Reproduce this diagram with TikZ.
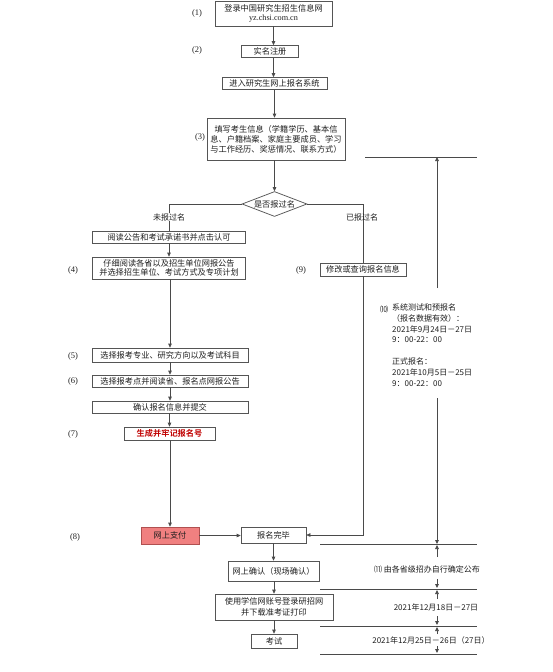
\documentclass[tikz,border=0pt]{standalone}
\usepackage{fontspec}
\setmainfont{Liberation Serif}
\newfontfamily\cjk{Noto Sans CJK SC}[BoldFont={Noto Sans CJK SC Bold}]
\usetikzlibrary{arrows.meta,shapes.geometric}
\definecolor{linec}{HTML}{4A4A4A}
\definecolor{boxc}{HTML}{555555}
\definecolor{txt}{HTML}{1E1E1E}
\definecolor{payfill}{HTML}{F08080}
\definecolor{payline}{HTML}{B05050}
\definecolor{redtxt}{HTML}{C00000}
\begin{document}
\begin{tikzpicture}[x=1pt,y=-1pt,
  box/.style={draw=boxc, line width=0.75pt, inner sep=0pt, text=txt, align=center,
    font=\cjk\fontsize{8.2}{10}\selectfont},
  num/.style={inner sep=0pt, text=txt, font=\fontsize{8.5}{10}\selectfont},
  tl/.style={inner sep=0pt, text=txt, font=\cjk\fontsize{8}{10.8}\selectfont},
  ln/.style={draw=linec, line width=0.75pt},
  arr/.style={ln, -{Triangle[length=4pt,width=3.6pt]}},
]
\useasboundingbox (0,0) rectangle (553,672);

% main column
\node[box, minimum width=117pt, minimum height=25pt] (b1) at (273.5,13.5)
  {登录中国研究生招生信息网\\[-1pt]{\rmfamily yz.chsi.com.cn}};
\node[box, minimum width=57pt, minimum height=12pt] (b2) at (270,51.5) {实名注册};
\node[box, minimum width=105pt, minimum height=12pt] (b3) at (274.5,83.5) {进入研究生网上报名系统};
\node[box, minimum width=138pt, minimum height=42pt] (b4) at (276,139)
  {填写考生信息（学籍学历、基本信\\息、户籍档案、家庭主要成员、学习\\与工作经历、奖惩情况、联系方式）};
\node[box, diamond, aspect=2.6, minimum width=65pt, minimum height=25pt] (dia) at (274.5,204) {是否报过名};

% left column
\node[box, minimum width=153pt, minimum height=12pt] (r1) at (169,237) {阅读公告和考试承诺书并点击认可};
\node[box, minimum width=153pt, minimum height=22pt, font=\cjk\fontsize{8.2}{9.6}\selectfont] (r2) at (169,268)
  {仔细阅读各省以及招生单位网报公告\\并选择招生单位、考试方式及专项计划};
\node[box, minimum width=156pt, minimum height=14pt] (r5) at (170,355) {选择报考专业、研究方向以及考试科目};
\node[box, minimum width=156pt, minimum height=12pt] (r6) at (170,381) {选择报考点并阅读省、报名点网报公告};
\node[box, minimum width=156pt, minimum height=12pt] (r6b) at (170,407) {确认报名信息并提交};
\node[box, minimum width=91pt, minimum height=13pt, text=redtxt, font=\cjk\bfseries\fontsize{8.2}{10}\selectfont] (r7) at (169.5,433.5) {生成并牢记报名号};
\node[box, draw=payline, fill=payfill, minimum width=58pt, minimum height=17pt] (pay) at (170,535.5) {网上支付};

% right branch
\node[box, minimum width=86pt, minimum height=13pt] (m9) at (363,269.5) {修改或查询报名信息};

% bottom column
\node[box, minimum width=65pt, minimum height=16pt] (done) at (273.5,535) {报名完毕};
\node[box, minimum width=91pt, minimum height=20pt] (conf) at (273.5,571) {网上确认（现场确认）};
\node[box, minimum width=118pt, minimum height=26pt, font=\cjk\fontsize{8.2}{11}\selectfont] (dl) at (274,607)
  {使用学信网账号登录研招网\\并下载准考证打印};
\node[box, minimum width=46pt, minimum height=14pt] (exam) at (274,641) {考试};

% step numbers
\node[num] (n1) at (197,13) {(1)};
\node[num] (n2) at (197,50) {(2)};
\node[num] (n3) at (200,137) {(3)};
\node[num] (n4) at (73,270) {(4)};
\node[num] (n5) at (73,356) {(5)};
\node[num] (n6) at (73,381) {(6)};
\node[num] (n7) at (73,434) {(7)};
\node[num] (n8) at (75,537) {(8)};
\node[num] (n9) at (301,270) {(9)};

% connectors main
\draw[arr] (b1.south) -- (b1.south |- b2.north);
\draw[arr] (b1.south |- b2.south) -- (b1.south |- b3.north);
\draw[arr] (b3.south -| dia.north) -- (dia.north |- b4.north);
\draw[arr] (b4.south -| dia.north) -- (dia.north);

% branches
\draw[ln] (dia.west) -| (r1.north);
\node[tl, fill=white, inner sep=0.5pt] (lno) at (169,217) {未报过名};
\draw[ln] (dia.east) -| (m9.north);
\node[tl] (lyes) at (362,217) {已报过名};
\draw[arr] (m9.south) |- (done.east);

\draw[arr] (r1) -- (r2);
\draw[arr] (r2.south -| r5.north) -- (r5.north);
\draw[arr] (r5) -- (r6);
\draw[arr] (r6) -- (r6b);
\draw[arr] (r6b.south -| r7.north) -- (r7.north);
\draw[arr] (r7.south -| pay.north) -- (pay.north);
\draw[arr] (pay.east) -- (pay.east -| done.west);
\draw[arr] (done) -- (conf);
\draw[arr] (conf.south -| dl.north) -- (dl.north);
\draw[arr] (dl) -- (exam);

% timeline top
\coordinate (ta) at (365,157);
\coordinate (tb) at (477,157);
\coordinate (tup) at (437,157);
\coordinate (tbot) at (437,288);
\draw[ln] (ta) -- (tb);
\draw[arr] (tbot) -- (tup);
\node[tl] (n10) at (384,309) {⑽};
\node[tl, anchor=north west, align=left] (t10) at (392,303.5)
  {系统测试和预报名\\（报名数据有效）：\\2021年9月24日－27日\\9：00-22：00\\[10.8pt]正式报名：\\2021年10月5日－25日\\9：00-22：00};

% timeline bottom
\coordinate (L1a) at (320,544); \coordinate (L1b) at (477,544);
\coordinate (L2a) at (320,589); \coordinate (L2b) at (477,589);
\coordinate (L3a) at (320,626); \coordinate (L3b) at (477,626);
\coordinate (L4a) at (320,654); \coordinate (L4b) at (477,654);
\draw[ln] (L1a) -- (L1b);
\draw[ln] (L2a) -- (L2b);
\draw[ln] (L3a) -- (L3b);
\draw[ln] (L4a) -- (L4b);
\coordinate (v0) at (437,398);
\coordinate (v1) at (437,544);
\draw[arr] (v0) -- (v1);
\coordinate (a1s) at (437,557); \coordinate (a1e) at (437,545);
\draw[arr] (a1s) -- (a1e);
\node[tl] (t11) at (427,569) {⑾ 由各省级招办自行确定公布};
\coordinate (a2s) at (437,579); \coordinate (a2e) at (437,588);
\draw[arr] (a2s) -- (a2e);
\coordinate (a3s) at (437,599); \coordinate (a3e) at (437,590);
\draw[arr] (a3s) -- (a3e);
\node[tl] (t12) at (436,607) {2021年12月18日－27日};
\coordinate (a4s) at (437,616); \coordinate (a4e) at (437,625);
\draw[arr] (a4s) -- (a4e);
\coordinate (a5s) at (437,634); \coordinate (a5e) at (437,627);
\draw[arr] (a5s) -- (a5e);
\node[tl] (t13) at (431,640) {2021年12月25日－26日（27日）};
\coordinate (a6s) at (437,646); \coordinate (a6e) at (437,653);
\draw[arr] (a6s) -- (a6e);
\end{tikzpicture}
\end{document}
